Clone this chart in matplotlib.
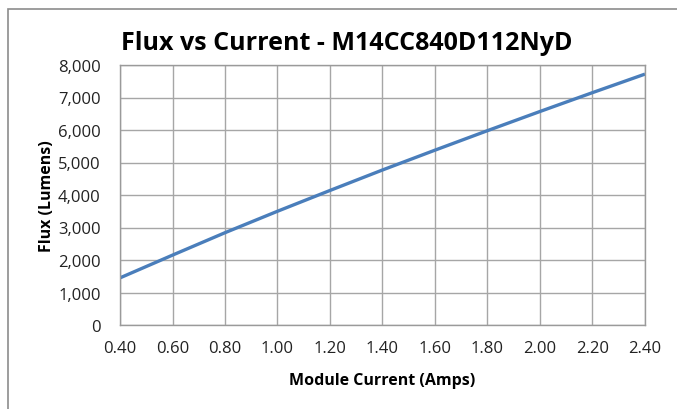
import matplotlib.pyplot as plt
from matplotlib.patches import Rectangle
from matplotlib.ticker import FuncFormatter

# data
current = [0.40, 0.60, 0.80, 1.00, 1.20, 1.40, 1.60, 1.80, 2.00, 2.20, 2.40]
flux = [1450, 2150, 2840, 3500, 4140, 4770, 5380, 5980, 6570, 7150, 7720]
x_ticks = [0.40, 0.60, 0.80, 1.00, 1.20, 1.40, 1.60, 1.80, 2.00, 2.20, 2.40]
y_ticks = [0, 1000, 2000, 3000, 4000, 5000, 6000, 7000, 8000]


def main():
    plt.rcParams['font.family'] = ['Open Sans', 'DejaVu Sans']
    fig = plt.figure(figsize=(6.77, 4.10), dpi=100)

    # chart frame (cut off at the right and bottom in the original)
    fig.patches.append(Rectangle((8 / 677, -0.05), 1.2, 1 - 10 / 410 + 0.05,
                                 transform=fig.transFigure, fill=False,
                                 edgecolor='#8c8c8c', linewidth=1.2))

    ax = fig.add_axes([120 / 677, 1 - 326 / 410, 525 / 677, 260 / 410])
    ax.plot(current, flux, color='#4a7ebb', linewidth=2.4, solid_capstyle='butt')

    ax.set_xlim(0.4, 2.4)
    ax.set_ylim(0, 8000)
    ax.set_xticks(x_ticks)
    ax.set_yticks(y_ticks)
    ax.xaxis.set_major_formatter(FuncFormatter(lambda v, p: f'{v:.2f}'))
    ax.yaxis.set_major_formatter(FuncFormatter(lambda v, p: f'{int(v):,}'))
    ax.tick_params(length=0, labelsize=12, colors='#222222')
    ax.tick_params(axis='x', pad=11)
    ax.tick_params(axis='y', pad=14)
    ax.grid(True, color='#a6a6a6', linewidth=1)
    ax.set_axisbelow(True)
    for s in ax.spines.values():
        s.set_color('#9a9a9a')
        s.set_linewidth(1)

    ax.set_xlabel('Module Current (Amps)', fontsize=11.5, fontweight='bold', labelpad=11)
    ax.set_ylabel('Flux (Lumens)', fontsize=11.5, fontweight='bold', labelpad=2)
    fig.text(347 / 677, 1 - 43 / 410, 'Flux vs Current - M14CC840D112NyD',
             ha='center', va='center', fontsize=18, fontweight='bold')

    fig.savefig('out.png', dpi=100)


if __name__ == "__main__":
    main()
